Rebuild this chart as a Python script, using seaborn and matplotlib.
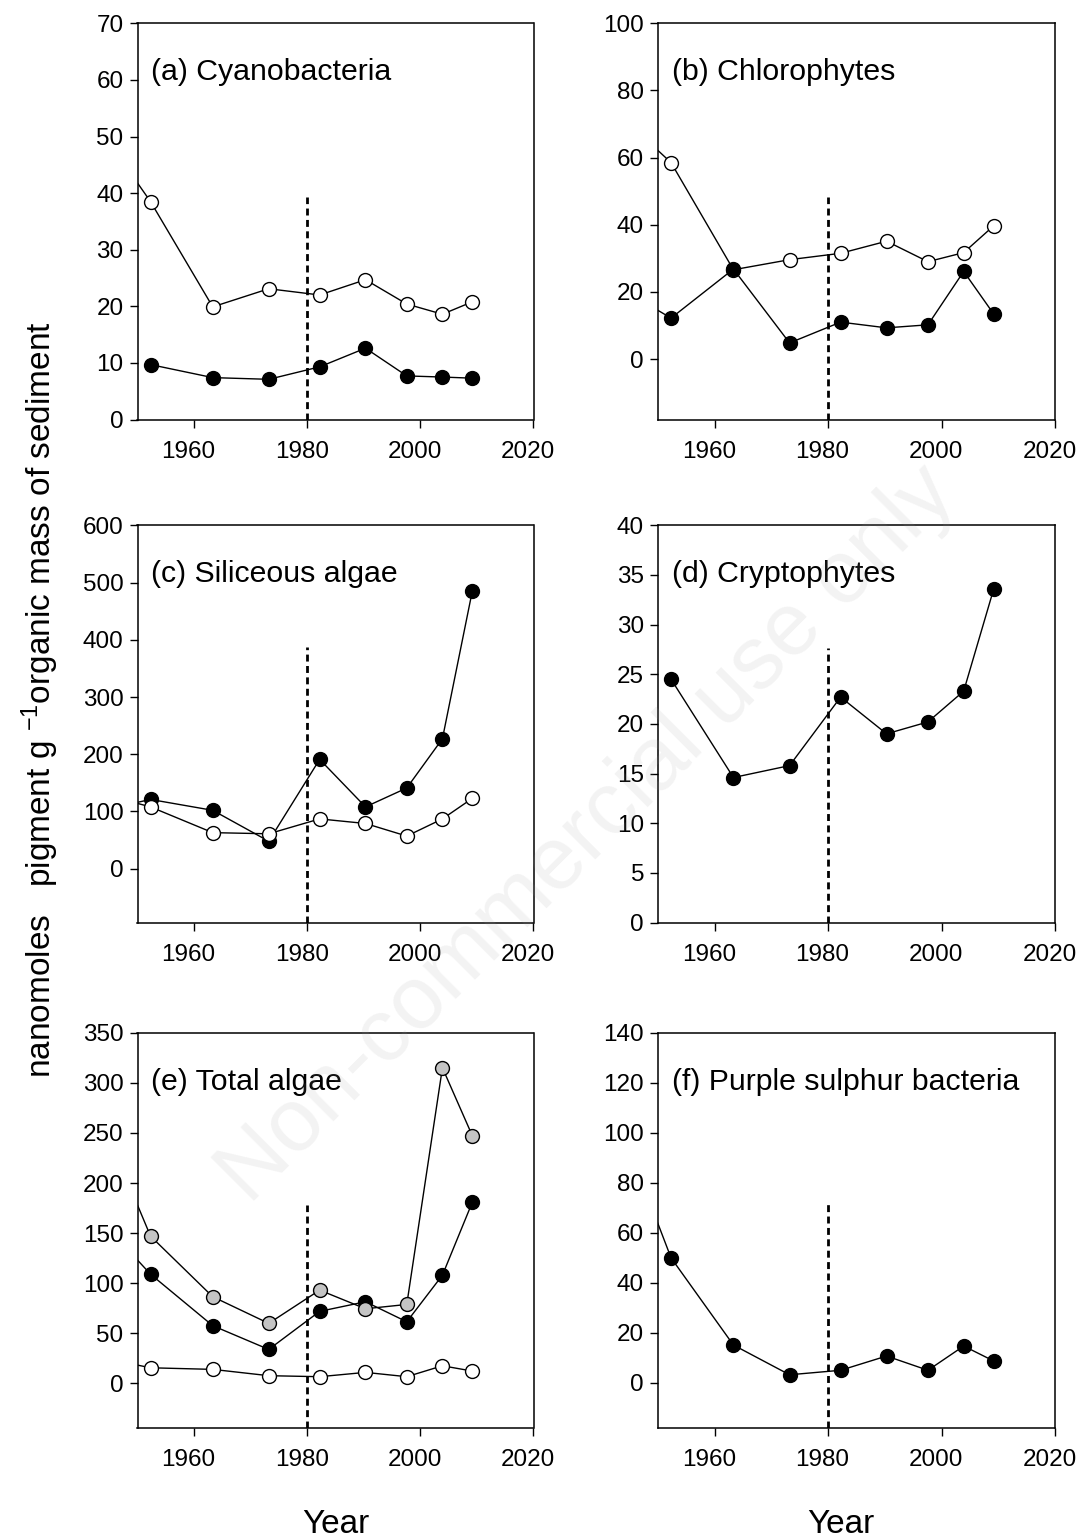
import seaborn as sns
import matplotlib.pyplot as plt
from matplotlib.transforms import ScaledTranslation

# core slice dates; one older slice sits just left of the x range
years = [1952.3, 1963.3, 1973.2, 1982.2, 1990.3, 1997.6, 2003.9, 2009.2]
early_year = 1942.5

cyano_open = [38.5, 19.9, 23.1, 22.0, 24.7, 20.4, 18.6, 20.8]
cyano_open_early = 52.5
cyano_filled = [9.7, 7.4, 7.1, 9.3, 12.6, 7.7, 7.5, 7.3]

chloro_open = [58.5, 26.6, 29.6, 31.5, 35.1, 29.0, 31.7, 39.7]
chloro_open_early = 73.9
chloro_filled = [12.2, 26.8, 4.8, 11.0, 9.3, 10.2, 26.1, 13.4]
chloro_filled_early = 22.0

silic_filled = [121, 102, 48, 191, 108, 141, 227, 486]
silic_filled_early = 99.5
silic_open = [108, 63, 61, 87, 79, 57, 87, 123]
silic_open_early = 134

crypto_filled = [24.5, 14.6, 15.8, 22.7, 19.0, 20.2, 23.3, 33.6]

total_filled = [109, 57.6, 33.9, 71.9, 81.5, 61.5, 108, 181]
total_filled_early = 169
total_grey = [147, 86.5, 59.9, 93.1, 74.5, 78.8, 315, 247]
total_grey_early = 279
total_open = [15.6, 14.0, 7.7, 6.7, 11.0, 6.7, 17.6, 12.3]
total_open_early = 27

purple_filled = [49.9, 15.0, 3.1, 4.9, 10.6, 4.9, 14.6, 8.6]
purple_filled_early = 108

titles = ['(a) Cyanobacteria', '(b) Chlorophytes', '(c) Siliceous algae',
          '(d) Cryptophytes', '(e) Total algae', '(f) Purple sulphur bacteria']
ylims = [(0, 70), (-18, 100), (-94, 600), (0, 40), (-44, 350), (-18, 140)]
ytick_steps = [10, 20, 100, 5, 50, 20]
dash_tops = [39.3, 48.4, 387, 27.6, 178, 72]

sns.set_style('ticks')
plt.rcParams['font.family'] = ['Liberation Sans', 'DejaVu Sans']
plt.rcParams['text.color'] = 'black'
plt.rcParams['axes.labelcolor'] = 'black'
plt.rcParams['xtick.color'] = 'black'
plt.rcParams['ytick.color'] = 'black'


def draw_series(ax, values, early=None, face='black'):
    x = list(years)
    y = list(values)
    if early is not None:
        x = [early_year] + x
        y = [early] + y
    sns.lineplot(x=x, y=y, ax=ax, sort=False, errorbar=None, color='black', lw=1.0,
                 marker='o', markersize=10, markerfacecolor=face,
                 markeredgecolor='black', markeredgewidth=1.0)


fig = plt.figure(figsize=(10.81, 15.40), dpi=100)

lefts = [137.5 / 1081, 658 / 1081]
widths = [396 / 1081, 397 / 1081]
rows = [(1 - 419.5 / 1540, 396.2 / 1540),
        (1 - 922.5 / 1540, 397.2 / 1540),
        (1 - 1427.5 / 1540, 394.8 / 1540)]

axes = []
for i in range(6):
    r, c = divmod(i, 2)
    ax = fig.add_axes([lefts[c], rows[r][0], widths[c], rows[r][1]])
    axes.append(ax)

draw_series(axes[0], cyano_open, cyano_open_early, face='white')
draw_series(axes[0], cyano_filled)

draw_series(axes[1], chloro_open, chloro_open_early, face='white')
draw_series(axes[1], chloro_filled, chloro_filled_early)

draw_series(axes[2], silic_filled, silic_filled_early)
draw_series(axes[2], silic_open, silic_open_early, face='white')

draw_series(axes[3], crypto_filled)

draw_series(axes[4], total_filled, total_filled_early)
draw_series(axes[4], total_grey, total_grey_early, face='#c4c4c4')
draw_series(axes[4], total_open, total_open_early, face='white')

draw_series(axes[5], purple_filled, purple_filled_early)

shift = ScaledTranslation(-4 / 72, 0, fig.dpi_scale_trans)
for i, ax in enumerate(axes):
    lo, hi = ylims[i]
    ax.vlines(1980, lo, dash_tops[i], colors='black', lw=2.0, linestyles=(0, (2.5, 1.6)))
    ax.set_xlim(1950, 2020)
    ax.set_ylim(lo, hi)
    ax.set_xticks([1960, 1980, 2000, 2020])
    ax.set_yticks(range(0, hi + 1, ytick_steps[i]))
    ax.tick_params(axis='both', direction='out', length=5.5, width=1.0,
                   labelsize=17.5, colors='black')
    ax.tick_params(axis='x', pad=10)
    ax.tick_params(axis='y', pad=4.5)
    for lab in ax.get_xticklabels():
        lab.set_transform(lab.get_transform() + shift)
    for sp in ax.spines.values():
        sp.set_linewidth(1.1)
        sp.set_color('black')
    ax.set_xlabel('')
    ax.set_ylabel('')
    ax.text(0.035, 0.856, titles[i], transform=ax.transAxes, fontsize=21.8,
            ha='left', va='baseline', color='black')

fig.text(336 / 1081, 1 - 1533 / 1540, 'Year', fontsize=24, ha='center', va='baseline')
fig.text(841 / 1081, 1 - 1533 / 1540, 'Year', fontsize=24, ha='center', va='baseline')

fig.text(40 / 1081, 1 - 700 / 1540,
         r'nanomoles   pigment g $\mathregular{^{-1}}$organic mass of sediment',
         rotation=90, ha='center', va='center', fontsize=24)

# faint watermark across the middle of the figure
fig.text(588 / 1081, 1 - 835 / 1540, 'Non-commercial use only', rotation=45,
         fontsize=64, color='#999999', alpha=0.12, ha='center', va='center', zorder=10)

fig.savefig('out.png', dpi=100)
